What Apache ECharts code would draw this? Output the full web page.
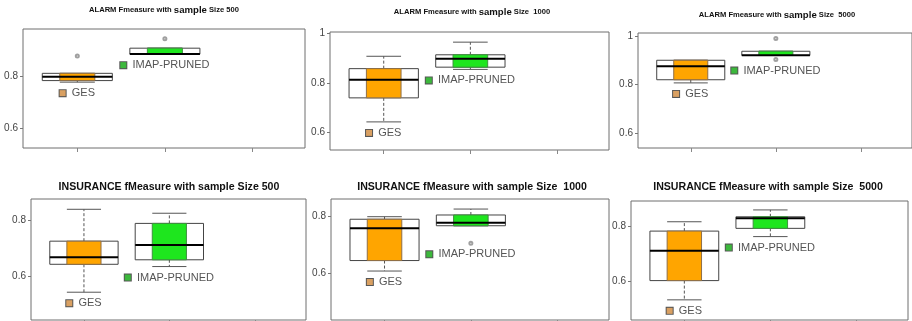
<!DOCTYPE html>
<html>
<head>
<meta charset="utf-8">
<script src="https://cdn.jsdelivr.net/npm/echarts@6/dist/echarts.min.js"></script>
<style>
  html, body { margin: 0; padding: 0; background: #fff; }
  #chart { width: 912px; height: 321px; }
</style>
</head>
<body>
<div id="chart"></div>
<script>
// box stats: [low whisker, q1, median, q3, high whisker]
const methods = ['GES', 'IMAP-PRUNED'];
const titles = [
  ['ALARM', 'Fmeasure with', 'sample', 'Size 500'],
  ['ALARM', 'Fmeasure with', 'sample', 'Size  1000'],
  ['ALARM', 'Fmeasure with', 'sample', 'Size  5000'],
  ['INSURANCE', 'fMeasure with', 'sample', 'Size 500'],
  ['INSURANCE', 'fMeasure with', 'sample', 'Size  1000'],
  ['INSURANCE', 'fMeasure with', 'sample', 'Size  5000']
];
const gesStats = [
  [0.776, 0.782, 0.797, 0.810, 0.810],
  [0.642, 0.739, 0.812, 0.857, 0.907],
  [0.807, 0.820, 0.875, 0.900, 0.900],
  [0.545, 0.644, 0.669, 0.726, 0.839],
  [0.608, 0.645, 0.759, 0.791, 0.800],
  [0.534, 0.604, 0.713, 0.784, 0.818]
];
const imapStats = [
  [0.884, 0.884, 0.885, 0.907, 0.907],
  [0.854, 0.863, 0.897, 0.913, 0.964],
  [0.920, 0.920, 0.921, 0.937, 0.937],
  [0.636, 0.660, 0.712, 0.789, 0.825],
  [0.768, 0.768, 0.779, 0.806, 0.827],
  [0.764, 0.794, 0.831, 0.836, 0.861]
];
const gesOutliers = [[0.877], [], [], [], [], []];
const imapOutliers = [[0.943], [], [0.989, 0.903], [], [0.706], []];
const yTicks = [0.6, 0.8, 1];
const yRanges = [
  [0.522, 0.981], [0.5285, 1.005], [0.5396, 1.012],
  [0.4465, 0.8755], [0.435, 0.8625], [0.4607, 0.8935]
];

// layout of the six panels (px)
const grids = [
  { left: 23, top: 29, width: 282, height: 119 },
  { left: 330, top: 32, width: 279, height: 118 },
  { left: 638, top: 33, width: 282, height: 115 },
  { left: 31, top: 199, width: 275, height: 121 },
  { left: 331, top: 199, width: 278, height: 121 },
  { left: 631, top: 201, width: 277, height: 119 }
];
const titlePos = [[164, 10], [472, 12], [777, 15], [169, 187], [472, 187], [768, 187]];

const fills = ['#ffa500', '#1ee61e'];
const edges = ['#8f6f48', '#3f8f3f'];
const keys = ['#d9a062', '#3cb83c'];

function renderBox(params, api) {
  const x = api.value(0);
  const k = api.value(6);
  const wide = api.size([0.8, 0])[0];
  const narrow = api.size([0.4, 0])[0];
  const c = api.coord([x, api.value(3)]);
  const xc = c[0];
  const yLow = api.coord([x, api.value(1)])[1];
  const yQ1 = api.coord([x, api.value(2)])[1];
  const yMed = c[1];
  const yQ3 = api.coord([x, api.value(4)])[1];
  const yHigh = api.coord([x, api.value(5)])[1];
  const yMin = api.coord([x, api.value(7)])[1];
  const grey = '#555';
  const ch = [
    { type: 'line', shape: { x1: xc, y1: yQ3, x2: xc, y2: yHigh }, style: { stroke: grey, lineWidth: 1, lineDash: [3, 2] } },
    { type: 'line', shape: { x1: xc, y1: yQ1, x2: xc, y2: yLow }, style: { stroke: grey, lineWidth: 1, lineDash: [3, 2] } },
    { type: 'line', shape: { x1: xc - narrow / 2, y1: yHigh, x2: xc + narrow / 2, y2: yHigh }, style: { stroke: grey, lineWidth: 1 } },
    { type: 'line', shape: { x1: xc - narrow / 2, y1: yLow, x2: xc + narrow / 2, y2: yLow }, style: { stroke: grey, lineWidth: 1 } },
    { type: 'rect', shape: { x: xc - wide / 2, y: yQ3, width: wide, height: yQ1 - yQ3 }, style: { fill: '#fff', stroke: '#444', lineWidth: 1 } },
    { type: 'rect', shape: { x: xc - narrow / 2, y: yQ3, width: narrow, height: yQ1 - yQ3 }, style: { fill: fills[k], stroke: edges[k], lineWidth: 1 } },
    { type: 'line', shape: { x1: xc - wide / 2, y1: yMed, x2: xc + wide / 2, y2: yMed }, style: { stroke: '#000', lineWidth: 2 } },
    {
      type: 'text', x: xc, y: yMin + 11,
      style: {
        text: '{sq|}  ' + methods[k],
        rich: { sq: { width: 6, height: 6, backgroundColor: keys[k], borderColor: '#555', borderWidth: 1 } },
        fill: '#555', font: '11px "Liberation Sans", Arial, sans-serif',
        align: 'center', verticalAlign: 'middle'
      }
    }
  ];
  return { type: 'group', children: ch };
}

const option = {
  animation: false,
  backgroundColor: '#fff',
  grid: [], xAxis: [], yAxis: [], series: [], graphic: []
};

grids.forEach((g, i) => {
  option.grid.push(Object.assign({ show: true, borderColor: '#6e6e6e', borderWidth: 1, backgroundColor: 'transparent' }, g));
  option.xAxis.push({
    type: 'value', gridIndex: i, min: 0.38, max: 3.6,
    splitLine: { show: false }, axisLine: { show: false },
    axisLabel: { show: false },
    axisTick: { show: true, customValues: [1, 2, 3], length: 4, lineStyle: { color: '#888' } }
  });
  const [lo, hi] = yRanges[i];
  const tv = yTicks.filter(v => v >= lo && v <= hi);
  option.yAxis.push({
    type: 'value', gridIndex: i, min: lo, max: hi,
    splitLine: { show: false }, axisLine: { show: false },
    axisTick: { show: true, customValues: tv, length: 3, lineStyle: { color: '#777' } },
    axisLabel: {
      customValues: tv, margin: 5, color: '#444', fontSize: 10,
      fontFamily: '"Liberation Sans", Arial, sans-serif',
      formatter: v => String(Math.round(v * 10) / 10)
    }
  });
  const stats = [gesStats[i], imapStats[i]];
  const outs = [gesOutliers[i], imapOutliers[i]];
  const boxData = stats.map((s, k) => [k + 1, ...s, k, Math.min(s[0], ...outs[k])]);
  option.series.push({
    type: 'custom', xAxisIndex: i, yAxisIndex: i,
    renderItem: renderBox,
    encode: { x: 0, y: [1, 2, 3, 4, 5] },
    data: boxData
  });
  const outData = [];
  outs.forEach((arr, k) => arr.forEach(v => outData.push([k + 1, v])));
  option.series.push({
    type: 'scatter', xAxisIndex: i, yAxisIndex: i,
    symbol: 'emptyCircle', symbolSize: 3,
    itemStyle: { color: '#888', borderColor: '#888', borderWidth: 1 },
    data: outData
  });

  const t = titles[i];
  const top = i < 3;
  const small = top ? 7.6 : 10.6;
  const big = top ? 9.6 : 10.6;
  option.graphic.push({
    type: 'text', x: titlePos[i][0], y: titlePos[i][1],
    style: {
      text: '{a|' + t[0] + ' ' + t[1] + ' }{b|' + t[2] + '}{a| ' + t[3] + '}',
      rich: {
        a: { fontSize: small, fontWeight: 'bold', fontFamily: '"Liberation Sans", Arial, sans-serif', fill: '#111' },
        b: { fontSize: big, fontWeight: 'bold', fontFamily: '"Liberation Sans", Arial, sans-serif', fill: '#111' }
      },
      align: 'center', verticalAlign: 'middle'
    }
  });
});

const chart = echarts.init(document.getElementById('chart'));
chart.setOption(option);
</script>
</body>
</html>
